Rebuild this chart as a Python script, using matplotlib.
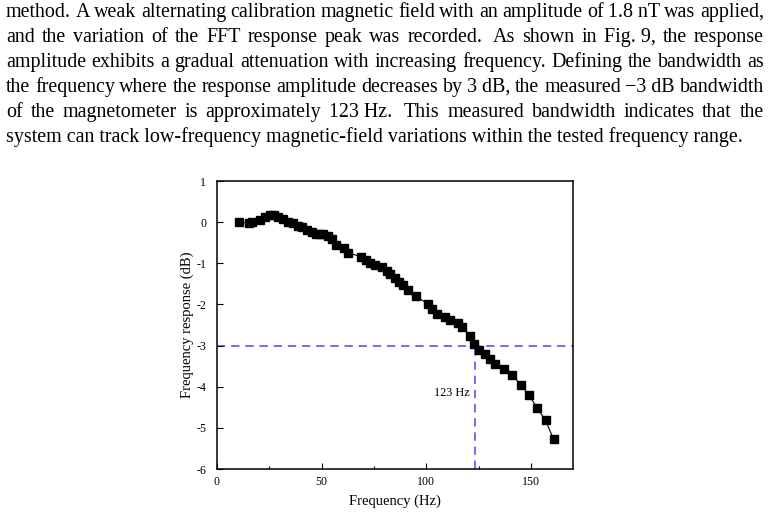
import matplotlib
matplotlib.use("Agg")
import matplotlib.pyplot as plt
from matplotlib.transforms import IdentityTransform
from matplotlib.ticker import MultipleLocator

# ---------------- data ----------------
freq = [10.8, 15.2, 17.0, 20.6, 23.0, 25.4, 27.3, 29.3, 31.7, 34.1,
        36.2, 38.6, 40.5, 42.9, 45.2, 47.3, 49.2, 50.8, 53.2, 55.0,
        57.1, 60.6, 62.7, 69.0, 71.4, 73.3, 75.4, 79.0, 81.0, 82.5,
        84.9, 87.0, 88.9, 91.0, 95.2, 100.8, 102.7, 105.0, 109.0, 111.0,
        115.0, 117.1, 120.6, 122.7, 125.0, 127.8, 130.5, 132.8, 136.8, 140.8,
        144.9, 148.7, 152.7, 156.8, 160.6]
response = [0.0, -0.02, 0.01, 0.05, 0.13, 0.17, 0.17, 0.13, 0.07, 0.01,
            -0.03, -0.10, -0.13, -0.19, -0.24, -0.28, -0.28, -0.28, -0.34, -0.42,
            -0.56, -0.64, -0.75, -0.84, -0.92, -1.00, -1.05, -1.10, -1.19, -1.25,
            -1.35, -1.45, -1.53, -1.64, -1.80, -2.00, -2.10, -2.24, -2.30, -2.38,
            -2.45, -2.55, -2.76, -2.95, -3.10, -3.21, -3.32, -3.44, -3.56, -3.71,
            -3.95, -4.19, -4.51, -4.82, -5.28]
bandwidth_hz = 123
cutoff_db = -3
x_ticks = [0, 50, 100, 150]
y_ticks = [1, 0, -1, -2, -3, -4, -5, -6]
x_label = "Frequency (Hz)"
y_label = "Frequency response (dB)"
bw_label = "123 Hz"

paragraph = [
    "method. A weak alternating calibration magnetic field with an amplitude of 1.8\u00a0nT was applied,",
    "and the variation of the FFT response peak was recorded.  As shown in Fig.\u00a09, the response",
    "amplitude exhibits a gradual attenuation with increasing frequency. Defining the bandwidth as",
    "the frequency where the response amplitude decreases by 3\u00a0dB, the measured \u22123\u00a0dB bandwidth",
    "of the magnetometer is approximately 123\u00a0Hz.  This measured bandwidth indicates that the",
    "system can track low-frequency magnetic-field variations within the tested frequency range.",
]

# ---------------- style ----------------
serif = ["Liberation Serif", "DejaVu Serif"]
plt.rcParams["font.family"] = serif
plt.rcParams["axes.unicode_minus"] = False

W, H = 770, 518
fig = plt.figure(figsize=(W / 100, H / 100), dpi=100)
fig.patch.set_facecolor("white")

# ---------------- axes ----------------
left, right, top, bottom = 216.7, 573.3, 181.0, 469.0
ax = fig.add_axes([left / W, 1 - bottom / H, (right - left) / W, (bottom - top) / H])

blue = "#5555f8"
ax.axhline(cutoff_db, color=blue, lw=1.2, linestyle=(0, (5, 3.5)), zorder=1)
ax.plot([bandwidth_hz, bandwidth_hz], [-6, cutoff_db], color=blue, lw=1.2,
        linestyle=(0, (5, 3.5)), zorder=1)
ax.plot(freq, response, color="black", lw=0.8, marker="s", markersize=6.2,
        markerfacecolor="black", markeredgecolor="black", zorder=3)
ax.text(bandwidth_hz - 2.2, -4.16, bw_label, ha="right", va="center", fontsize=8.8)

ax.set_xlim(0, 170)
ax.set_ylim(-6, 1)
ax.set_xticks(x_ticks)
ax.set_yticks(y_ticks)
ax.xaxis.set_minor_locator(MultipleLocator(25))
ax.tick_params(axis="both", which="major", direction="in", length=4, width=0.8,
               labelsize=8.6, top=False, right=False)
ax.tick_params(axis="x", which="minor", direction="in", length=2.5, width=0.8, top=False)
ax.tick_params(axis="x", which="major", pad=5)
ax.tick_params(axis="y", which="major", pad=7.5)
for s in ax.spines.values():
    s.set_linewidth(1.1)

ax.set_xlabel(x_label, fontsize=10.5)
ax.xaxis.set_label_coords(0.5, -0.088)
ax.set_ylabel(y_label, fontsize=10.5)
ax.yaxis.set_label_coords(-0.064, 0.5)

# ---------------- paragraph (justified) ----------------
renderer = fig.canvas.get_renderer()
tx0, tx1 = 6.0, 764.0
last_width = 742.0 - tx0

def word_width(word, fs):
    t = fig.text(0, 0, word, fontsize=fs, transform=IdentityTransform())
    w = t.get_window_extent(renderer).width
    t.remove()
    return w

base_fs = 12.0
w_last = word_width(paragraph[-1], base_fs)
fs = base_fs * last_width / w_last

baseline0 = 17.0
spacing = 25.0
for i, line in enumerate(paragraph):
    y = H - (baseline0 + i * spacing)
    if i == len(paragraph) - 1:
        fig.text(tx0, y, line, fontsize=fs, ha="left", va="baseline",
                 transform=IdentityTransform())
        continue
    tokens = line.split(" ")
    words = []
    gaps = []
    extra = 0.0
    for tok in tokens:
        if tok == "":
            extra += 0.5
            continue
        if words:
            gaps.append(1.0 + extra)
        extra = 0.0
        words.append(tok)
    widths = [word_width(w, fs) for w in words]
    free = (tx1 - tx0) - sum(widths)
    unit = free / sum(gaps)
    x = tx0
    for j, w in enumerate(words):
        fig.text(x, y, w, fontsize=fs, ha="left", va="baseline",
                 transform=IdentityTransform())
        x += widths[j]
        if j < len(gaps):
            x += gaps[j] * unit

fig.savefig("out.png", dpi=100, facecolor="white")
